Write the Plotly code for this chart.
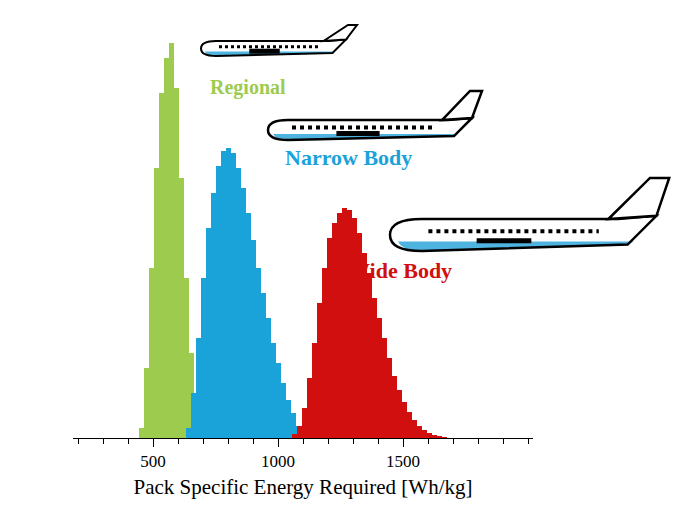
import plotly.graph_objects as go

reg_x = list(range(460, 721, 20))
reg_y = [10, 70, 170, 270, 345, 380, 395, 350, 260, 160, 85, 35, 12, 4]
nar_x = list(range(640, 1101, 20))
nar_y = [10, 45, 100, 160, 210, 245, 272, 287, 290, 285, 270, 250, 225, 198, 170, 145, 120, 95, 75, 55, 38, 25, 12, 5]
wid_x = list(range(1060, 1661, 20))
wid_y = [4, 12, 30, 60, 95, 135, 170, 200, 215, 225, 230, 228, 220, 205, 185, 165, 140, 120, 100, 80, 62, 48, 36, 26, 18, 12, 8, 5, 3, 2, 1]
tickvals = [500, 1000, 1500]

fig = go.Figure()
for xs, ys, c in [(reg_x, reg_y, "#9DCB4E"), (nar_x, nar_y, "#1AA3D9"), (wid_x, wid_y, "#D10F0F")]:
    fig.add_trace(go.Bar(x=xs, y=ys, width=20, marker=dict(color=c, line=dict(width=0)), showlegend=False))

def P(x, y):
    return f"{(x-65)/460:.4f},{(430-y)/430:.4f}"

shapes = []
def plane(x0, x1, yt, yb, fx, ft):
    h = yb - yt
    ym = (yt + yb) / 2
    body = (f"M {P(x0+h, yt)} L {P(x1, yt)} L {P(x1+h*1.2, yt-h*0.1)} L {P(x1+h*0.3, yb-h*0.2)} "
            f"L {P(x0+h, yb)} Q {P(x0, yb)} {P(x0, ym)} Q {P(x0, yt)} {P(x0+h, yt)} Z")
    band = (f"M {P(x0+h*0.25, yb-h*0.3)} L {P(x1+h*0.5, yb-h*0.3)} L {P(x1+h*0.3, yb-h*0.2)} "
            f"L {P(x0+h, yb)} Q {P(x0+h*0.4, yb)} {P(x0+h*0.25, yb-h*0.3)} Z")
    fin = f"M {P(x1-h*0.3, yt)} L {P(fx, ft)} L {P(fx+h*0.6, ft)} L {P(x1+h*1.2, yt-h*0.1)} Z"
    lw = 2 if h < 18 else 2.5
    shapes.append(dict(type="path", path=body, xref="paper", yref="paper", fillcolor="white", line=dict(width=0)))
    shapes.append(dict(type="path", path=band, xref="paper", yref="paper", fillcolor="#4FB3E0", line=dict(width=0)))
    shapes.append(dict(type="path", path=body, xref="paper", yref="paper", fillcolor="rgba(0,0,0,0)", line=dict(color="black", width=lw)))
    shapes.append(dict(type="path", path=fin, xref="paper", yref="paper", fillcolor="white", line=dict(color="black", width=lw)))
    wy = yt + h * 0.38
    shapes.append(dict(type="line", xref="paper", yref="paper", x0=(x0+h*1.2-65)/460, x1=(x1-h*0.6-65)/460,
                       y0=(430-wy)/430, y1=(430-wy)/430, line=dict(color="black", width=4 if h > 18 else 3, dash="dot")))
    ey = yt + h * 0.68
    shapes.append(dict(type="line", xref="paper", yref="paper", x0=(x0+(x1-x0)*0.38-65)/460, x1=(x0+(x1-x0)*0.62-65)/460,
                       y0=(430-ey)/430, y1=(430-ey)/430, line=dict(color="black", width=5)))

plane(193, 320, 33, 48, 340, 17)
plane(260, 440, 112, 132, 462, 83)
plane(382, 610, 211, 243, 642, 170)

font = "Liberation Serif"
ann = [
    dict(text="<b>Regional</b>", x=(240-65)/460, y=(430-66)/430, color="#9DCB4E", size=20),
    dict(text="<b>Narrow Body</b>", x=(340-65)/460, y=(430-150)/430, color="#1AA3D9", size=22),
    dict(text="<b>Wide Body</b>", x=(446-65)/460, y=(430-262)/430, color="#D10F0F", size=22),
]
fig.update_layout(
    width=700, height=520, margin=dict(l=65, r=175, t=0, b=90, autoexpand=False),
    plot_bgcolor="white", paper_bgcolor="white", bargap=0,
    shapes=shapes,
    annotations=[dict(text=a["text"], x=a["x"], y=a["y"], xref="paper", yref="paper", showarrow=False,
                      font=dict(family=font, size=a["size"], color=a["color"])) for a in ann],
    xaxis=dict(range=[180, 2020], tickvals=tickvals, ticks="outside", ticklen=8, tickcolor="black",
               showline=True, linecolor="black", showgrid=False, zeroline=False, automargin=False,
               minor=dict(dtick=100, tick0=0, ticks="outside", ticklen=5, tickcolor="black", showgrid=False),
               tickfont=dict(family=font, size=17, color="black"),
               title=dict(text="Pack Specific Energy Required [Wh/kg]", font=dict(family=font, size=21, color="black"), standoff=8)),
    yaxis=dict(range=[0, 430], visible=False, automargin=False),
)
fig.write_html("out.html")
